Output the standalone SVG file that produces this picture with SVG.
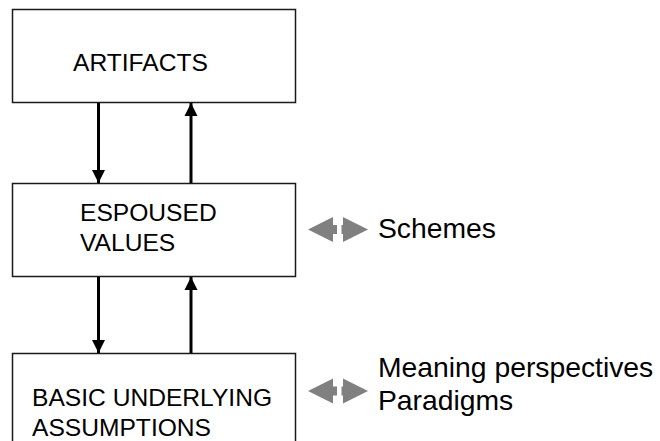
<svg xmlns="http://www.w3.org/2000/svg" width="660" height="441" viewBox="0 0 660 441">
  <defs>
    <style>
      .box { fill: #ffffff; stroke: #1a1a1a; stroke-width: 1.5; }
      .lbl { font-family: "Liberation Sans", Arial, sans-serif; font-size: 24.6px; fill: #000000; }
      .side { font-family: "Liberation Sans", Arial, sans-serif; font-size: 28.3px; fill: #000000; }
      .flow { stroke: #000000; stroke-width: 3; fill: none; }
      .link { fill: #808080; }
    </style>
    <marker id="head" markerUnits="userSpaceOnUse" markerWidth="15" markerHeight="14" viewBox="0 0 15 14" refX="13" refY="7" orient="auto">
      <path d="M0,0.5 L13,7 L0,13.5 Z" fill="#000000"/>
    </marker>
    <!-- two-way grey link: left-pointing and right-pointing halves with a gap -->
    <g id="twoway">
      <path class="link" d="M0,0 L25,-12.5 L25,-4.5 L29,-4.5 L29,4.5 L25,4.5 L25,12.5 Z"/>
      <path class="link" d="M60,0 L35,-12.5 L35,-4.5 L33.5,-4.5 L33.5,4.5 L35,4.5 L35,12.5 Z"/>
    </g>
  </defs>

  <rect width="660" height="441" fill="#ffffff"/>

  <g id="artifacts">
    <rect class="box" x="12.5" y="9.5" width="283" height="93"/>
    <text class="lbl" x="73" y="71">ARTIFACTS</text>
  </g>

  <g id="espoused-values">
    <rect class="box" x="12.5" y="183.5" width="283" height="93"/>
    <text class="lbl" x="80" y="221">ESPOUSED</text>
    <text class="lbl" x="80" y="251">VALUES</text>
  </g>

  <g id="basic-assumptions">
    <rect class="box" x="12.5" y="353.5" width="283" height="100"/>
    <text class="lbl" x="32" y="406">BASIC UNDERLYING</text>
    <text class="lbl" x="32" y="436">ASSUMPTIONS</text>
  </g>

  <g id="schemes">
    <text class="side" x="378" y="238">Schemes</text>
  </g>

  <g id="perspectives">
    <text class="side" x="378" y="377">Meaning perspectives</text>
    <text class="side" x="378" y="410">Paradigms</text>
  </g>

  <g id="connectors">
    <line class="flow" x1="98.5" y1="103" x2="98.5" y2="183" marker-end="url(#head)"/>
    <line class="flow" x1="191" y1="183" x2="191" y2="103" marker-end="url(#head)"/>
    <line class="flow" x1="98.5" y1="277" x2="98.5" y2="353" marker-end="url(#head)"/>
    <line class="flow" x1="191" y1="353" x2="191" y2="277" marker-end="url(#head)"/>
    <use href="#twoway" x="308" y="229.5"/>
    <use href="#twoway" x="308" y="391"/>
  </g>
</svg>
